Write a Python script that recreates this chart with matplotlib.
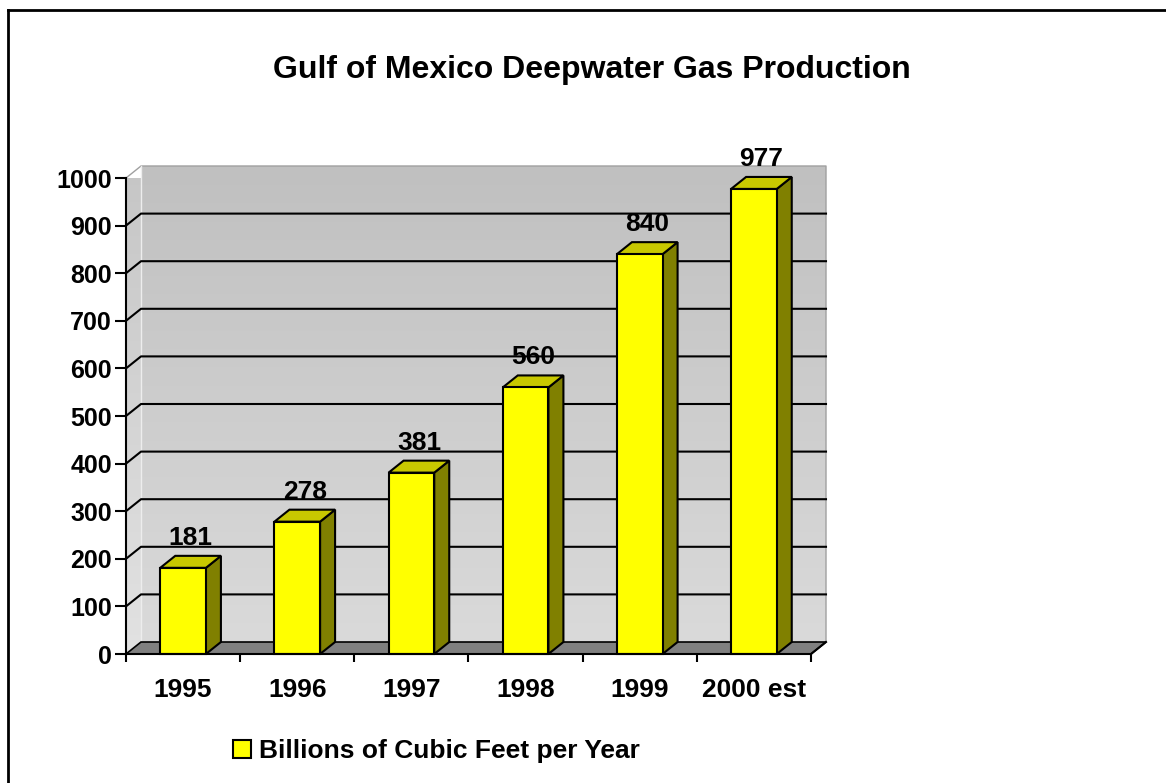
import matplotlib
matplotlib.use("Agg")
import matplotlib.pyplot as plt
import numpy as np
from matplotlib.patches import Polygon, Patch
from matplotlib.lines import Line2D

plt.rcParams['font.family'] = ['Liberation Sans', 'DejaVu Sans']
plt.rcParams['font.weight'] = 'bold'

years = ['1995', '1996', '1997', '1998', '1999', '2000 est']
production = [181, 278, 381, 560, 840, 977]
series_name = 'Billions of Cubic Feet per Year'
title = 'Gulf of Mexico Deepwater Gas Production'
yticks = list(range(0, 1001, 100))

W, H = 1166, 783
fig = plt.figure(figsize=(W / 100, H / 100), dpi=100)
fig.patch.set_facecolor('white')

# front plane of the plot: x -0.5..5.5 -> px 126..811, y 0..1000 -> px 654..178
ax = fig.add_axes([126 / W, 1 - 654 / H, (811 - 126) / W, (654 - 178) / H])
ax.set_facecolor('none')

# depth of the fake 3d box, in data units (15 px right, 12 px up)
DX = 15 / ((811 - 126) / 6)
DY = 12 / (476 / 1000)
x0, x1 = -0.5, len(years) - 0.5
top = 1000
half = 0.2

# back wall with vertical gradient
grad = np.linspace(0, 1, 256).reshape(-1, 1)
wall_cmap = matplotlib.colors.LinearSegmentedColormap.from_list('wall', ['#DADADA', '#C0C0C0'])
ax.imshow(grad, cmap=wall_cmap, origin='lower', aspect='auto',
          extent=(x0 + DX, x1 + DX, DY, top + DY), zorder=0, clip_on=False)

# side wall
side_cmap = matplotlib.colors.LinearSegmentedColormap.from_list('side', ['#E2E2E2', '#C6C6C6'])
side = Polygon([(x0, 0), (x0 + DX, DY), (x0 + DX, top + DY), (x0, top)],
               closed=True, facecolor='none', edgecolor='none')
ax.add_patch(side)
im = ax.imshow(grad, cmap=side_cmap, origin='lower', aspect='auto',
               extent=(x0, x0 + DX, 0, top + DY), zorder=0, clip_on=True)
im.set_clip_path(side)

# wall outline
ax.plot([x0, x0 + DX, x1 + DX, x1 + DX], [top, top + DY, top + DY, DY],
        color='#A0A0A0', lw=1, zorder=1, clip_on=False)
ax.plot([x0 + DX, x0 + DX], [DY, top + DY], color='#EDEDED', lw=1, zorder=1, clip_on=False)

# gridlines on side and back wall
for v in yticks[1:-1]:
    ax.plot([x0, x0 + DX, x1 + DX], [v, v + DY, v + DY], color='black', lw=1.5,
            zorder=2, clip_on=False)

# floor
floor = Polygon([(x0, 0), (x1, 0), (x1 + DX, DY), (x0 + DX, DY)], closed=True,
                facecolor='#808080', edgecolor='black', lw=1.2, zorder=2, clip_on=False)
ax.add_patch(floor)

# bars
for i, v in enumerate(production):
    l, r = i - half, i + half
    ax.add_patch(Polygon([(r, 0), (r + DX, DY), (r + DX, v + DY), (r, v)], closed=True,
                         facecolor='#808000', edgecolor='black', lw=1.5, zorder=3,
                         joinstyle='miter', clip_on=False))
    ax.add_patch(Polygon([(l, v), (r, v), (r + DX, v + DY), (l + DX, v + DY)], closed=True,
                         facecolor='#C8C800', edgecolor='black', lw=1.5, zorder=3,
                         joinstyle='miter', clip_on=False))
    ax.add_patch(Polygon([(l, 0), (r, 0), (r, v), (l, v)], closed=True,
                         facecolor='#FFFF00', edgecolor='black', lw=1.5, zorder=3,
                         joinstyle='miter', clip_on=False))
    ax.annotate(str(v), (i + DX / 2, v + DY), xytext=(0, 8), textcoords='offset points',
                ha='center', va='baseline', fontsize=19, fontweight='bold', zorder=5,
                annotation_clip=False)

ax.set_xlim(x0, x1)
ax.set_ylim(0, top)

for s in ['top', 'right']:
    ax.spines[s].set_visible(False)
for s in ['left', 'bottom']:
    ax.spines[s].set_linewidth(1.5)
    ax.spines[s].set_zorder(4)

ax.set_yticks(yticks)
ax.set_yticklabels([str(t) for t in yticks])
ax.tick_params(axis='y', direction='out', length=8, width=1.5, pad=2, labelsize=18)

ax.set_xticks(np.arange(x0, x1 + 0.01, 1.0))
ax.set_xticklabels([])
ax.set_xticks(range(len(years)), minor=True)
ax.set_xticklabels(years, minor=True)
ax.tick_params(axis='x', which='major', direction='out', length=6, width=1.5)
ax.tick_params(axis='x', which='minor', length=0, pad=17, labelsize=19)

# floor right edge going back
ax.plot([x1, x1 + DX], [0, DY], color='black', lw=1.5, zorder=4, clip_on=False)

fig.text(592 / W, 1 - 78 / H, title, ha='center', va='baseline', fontsize=23,
         fontweight='bold')

fig.legend(handles=[Patch(facecolor='#FFFF00', edgecolor='black', lw=1.5)],
           labels=[series_name], loc='center left',
           bbox_to_anchor=(233 / W, 1 - 751 / H), frameon=False, borderpad=0,
           borderaxespad=0, handlelength=0.7, handleheight=0.7, handletextpad=0.3,
           prop={'size': 19, 'weight': 'bold'})

# outer chart border
fig.add_artist(Line2D([8 / W, 8 / W], [0, 1 - 10 / H], color='black', lw=2,
                      transform=fig.transFigure))
fig.add_artist(Line2D([8 / W, 1], [1 - 10 / H, 1 - 10 / H], color='black', lw=2,
                      transform=fig.transFigure))

fig.savefig('out.png', dpi=100)
